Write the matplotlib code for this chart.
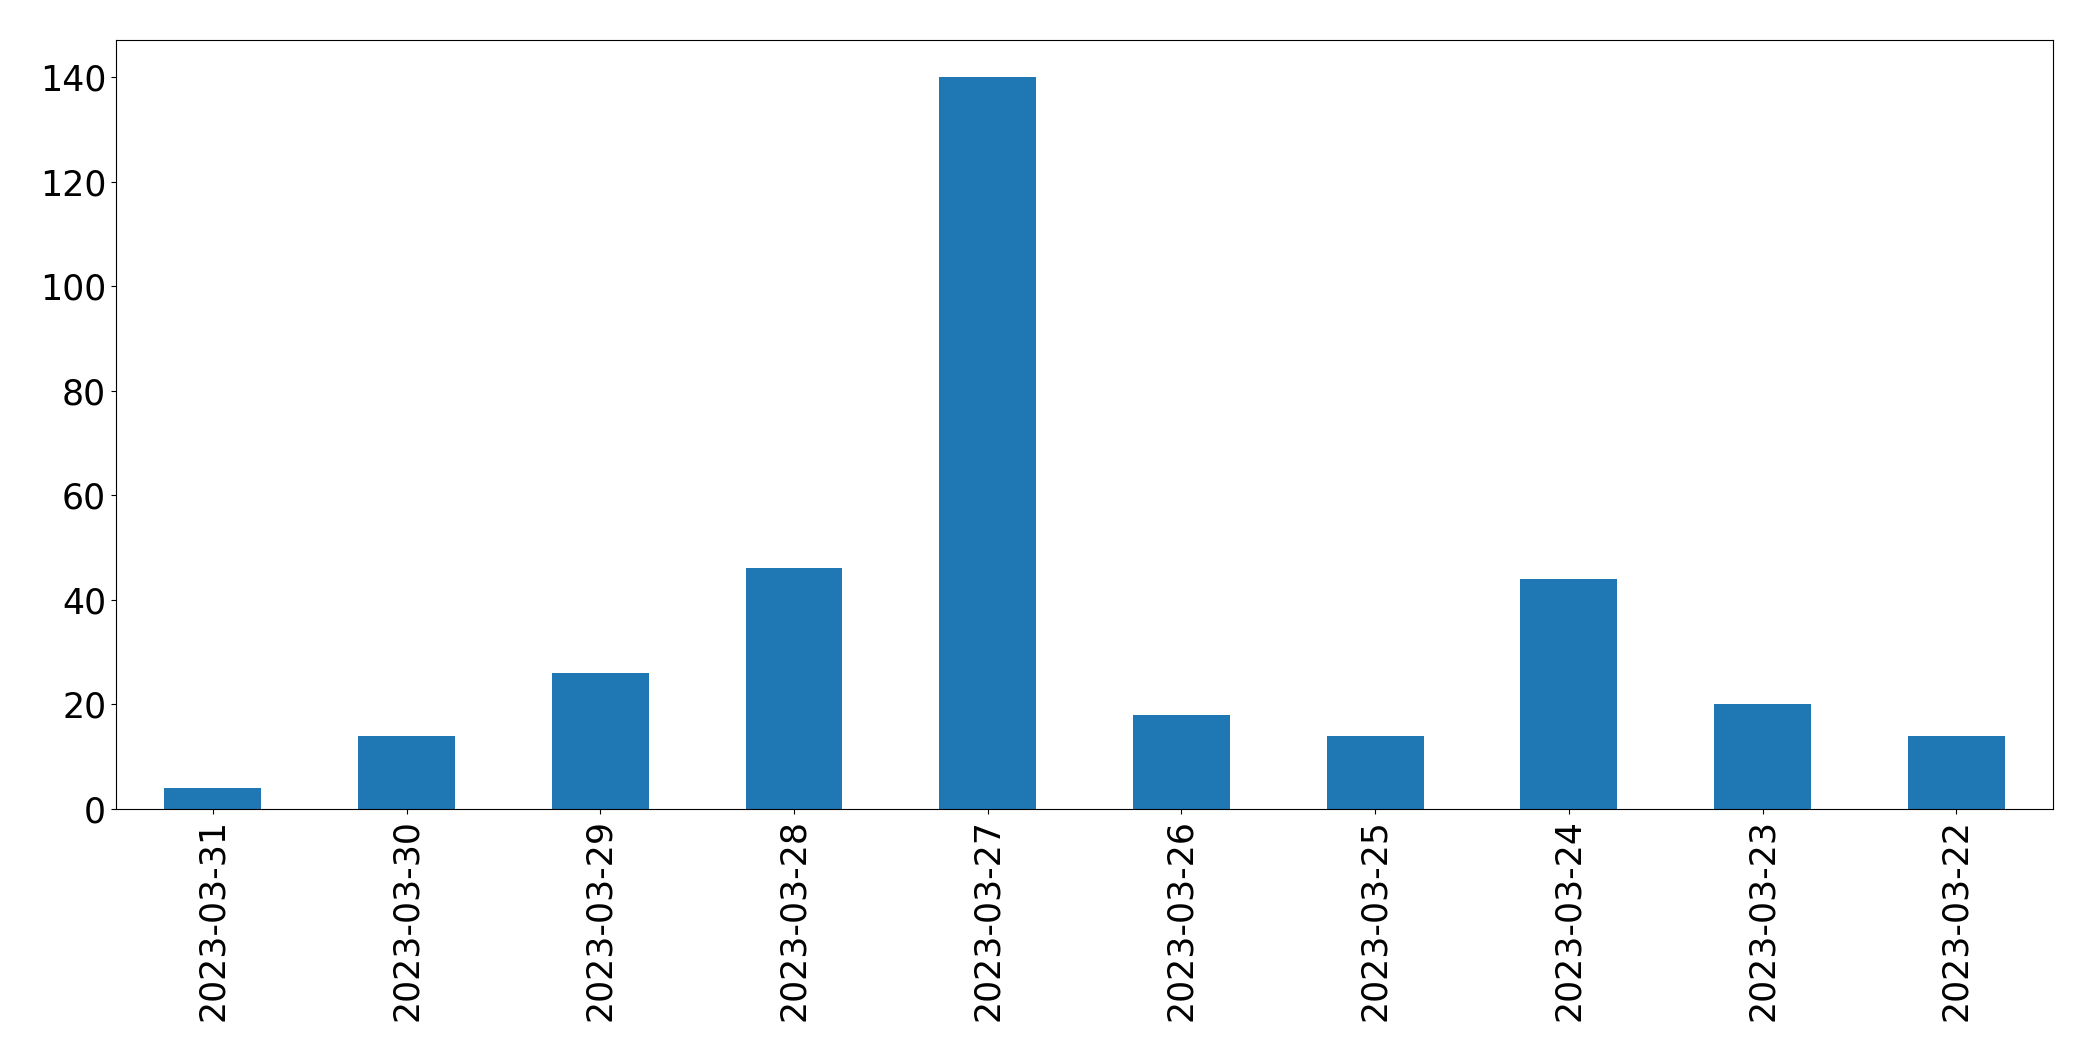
import matplotlib
matplotlib.use("Agg")
import matplotlib.pyplot as plt
import numpy as np

dates = ["2023-03-31", "2023-03-30", "2023-03-29", "2023-03-28", "2023-03-27",
         "2023-03-26", "2023-03-25", "2023-03-24", "2023-03-23", "2023-03-22"]
counts = [4, 14, 26, 46, 140, 18, 14, 44, 20, 14]

fig = plt.figure(figsize=(20.93, 10.61), dpi=100)
ax = fig.add_axes([0.0554, 0.2375, 0.9256, 0.7245])
x = np.arange(len(dates))
ax.bar(x, counts, width=0.5, color="#1f77b4")
ax.set_xlim(-0.5, len(dates) - 0.5)
ax.set_ylim(0, 147)
ax.set_xticks(x)
ax.set_xticklabels(dates, rotation=90)
ax.tick_params(axis="both", labelsize=25)
fig.savefig("out.png", dpi=100)
